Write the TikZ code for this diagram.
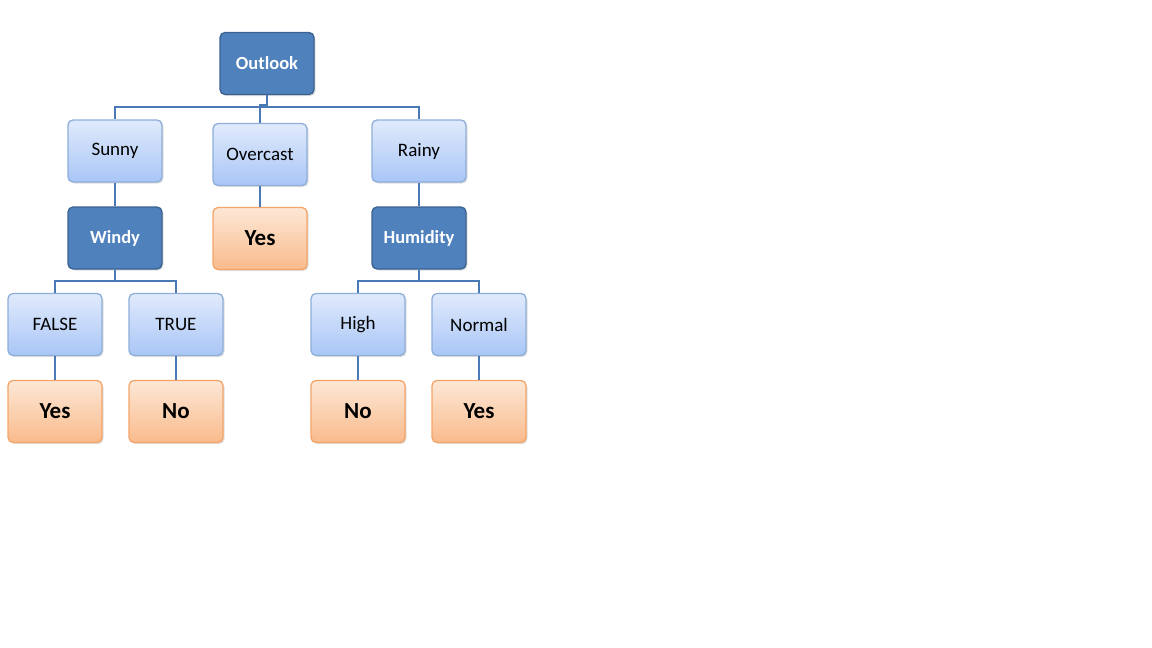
\documentclass[tikz,border=0pt]{standalone}
\usepackage{fontspec}
\setmainfont{Carlito}
\usetikzlibrary{shadings,shadows}
\definecolor{darkfill}{HTML}{4F81BD}
\definecolor{darkline}{HTML}{3A6190}
\definecolor{lighttop}{HTML}{E0EAFC}
\definecolor{lightbot}{HTML}{A9C6F6}
\definecolor{lightline}{HTML}{8EAEDA}
\definecolor{orangetop}{HTML}{FDE7D6}
\definecolor{orangebot}{HTML}{F9BB8C}
\definecolor{orangeline}{HTML}{F5A468}
\definecolor{conn}{HTML}{4A7AB5}
\tikzset{
  base/.style={rectangle, rounded corners=5pt, minimum width=94pt, minimum height=62pt, line width=1.3pt, inner sep=0pt,
    drop shadow={shadow xshift=1.5pt, shadow yshift=-1.5pt, opacity=0.25}},
  decision/.style={base, fill=darkfill, draw=darkline, text=white, font=\bfseries\fontsize{18.5}{22}\selectfont},
  branch/.style={base, top color=lighttop, bottom color=lightbot, draw=lightline, text=black, font=\fontsize{19}{22}\selectfont},
  leaf/.style={base, top color=orangetop, bottom color=orangebot, draw=orangeline, text=black, font=\bfseries\fontsize{23}{27}\selectfont},
  link/.style={draw=conn, line width=1.4pt}
}
\begin{document}
\begin{tikzpicture}[x=1pt,y=-1pt]
\useasboundingbox (0,0) rectangle (1152,648);
\node[decision] (outlook) at (267,63.5) {Outlook};
\node[branch] (sunny) at (115,151) {Sunny};
\node[branch] (overcast) at (260,154.5) {Overcast};
\node[branch] (rainy) at (419,151) {Rainy};
\node[decision] (windy) at (115,238) {Windy};
\node[leaf] (yes1) at (260,238.5) {Yes};
\node[decision] (humidity) at (419,238) {Humidity};
\node[branch] (false) at (55,324.5) {FALSE};
\node[branch] (true) at (176,324.5) {TRUE};
\node[branch] (high) at (358,324.5) {High};
\node[branch] (normal) at (479,324.5) {Normal};
\node[leaf] (yes2) at (55,411.5) {Yes};
\node[leaf] (no1) at (176,411.5) {No};
\node[leaf] (no2) at (358,411.5) {No};
\node[leaf] (yes3) at (479,411.5) {Yes};
\draw[link] (outlook.south) -- (outlook.south |- 0,107) -| (sunny.north);
\draw[link] (outlook.south) -- (outlook.south |- 0,107) -| (rainy.north);
\draw[link] (outlook.south) -- (outlook.south |- 0,105) -| (overcast.north);
\draw[link] (sunny.south) -- (windy.north);
\draw[link] (overcast.south) -- (yes1.north);
\draw[link] (rainy.south) -- (humidity.north);
\draw[link] (windy.south) -- (windy.south |- 0,281) -| (false.north);
\draw[link] (windy.south) -- (windy.south |- 0,281) -| (true.north);
\draw[link] (humidity.south) -- (humidity.south |- 0,281) -| (high.north);
\draw[link] (humidity.south) -- (humidity.south |- 0,281) -| (normal.north);
\draw[link] (false.south) -- (yes2.north);
\draw[link] (true.south) -- (no1.north);
\draw[link] (high.south) -- (no2.north);
\draw[link] (normal.south) -- (yes3.north);
\end{tikzpicture}
\end{document}
